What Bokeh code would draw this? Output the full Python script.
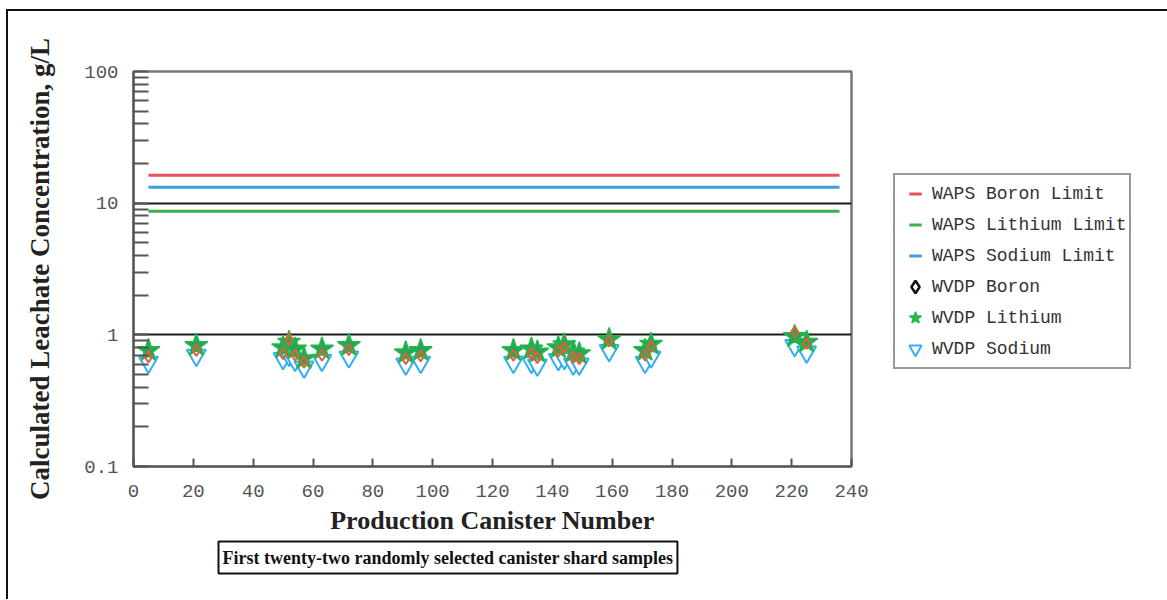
from bokeh.plotting import figure
from bokeh.models import (FixedTicker, Legend, LegendItem, Title, CustomJSTickFormatter, Range1d)
from bokeh.embed import file_html
from bokeh.resources import INLINE

# ---- data ----
canister = [5, 21, 50, 52, 54, 57, 63, 72, 91, 96, 127, 133, 135, 142, 144, 147, 149, 159, 171, 173, 221, 225]
wvdp_lithium = [0.76, 0.83, 0.80, 0.88, 0.78, 0.66, 0.78, 0.83, 0.73, 0.76, 0.76, 0.78, 0.74, 0.80, 0.84, 0.74, 0.72, 0.92, 0.76, 0.85, 0.97, 0.88]
wvdp_boron = [0.68, 0.76, 0.72, 0.92, 0.70, 0.62, 0.70, 0.77, 0.66, 0.69, 0.70, 0.72, 0.67, 0.75, 0.80, 0.68, 0.66, 0.90, 0.70, 0.82, 1.05, 0.86]
wvdp_sodium = [0.62, 0.70, 0.66, 0.70, 0.64, 0.57, 0.64, 0.68, 0.60, 0.62, 0.62, 0.62, 0.59, 0.65, 0.66, 0.60, 0.60, 0.76, 0.62, 0.68, 0.83, 0.74]

limit_x = [5, 236]
waps_boron_limit = [16.3, 16.3]
waps_lithium_limit = [8.7, 8.7]
waps_sodium_limit = [13.2, 13.2]

x_ticks = list(range(0, 241, 20))
y_major = [0.1, 1, 10, 100]
y_minor = [0.2, 0.3, 0.4, 0.5, 0.6, 0.7, 0.8, 0.9,
           2, 3, 4, 5, 6, 7, 8, 9,
           20, 30, 40, 50, 60, 70, 80, 90]

NAN = [float("nan")]  # legend-only proxies draw nothing in the plot

RED = "#e4505c"
GREEN = "#3cb04c"
BLUE = "#3a9ee0"
STAR = "#2aa457"
TRI = "#33aef0"
DIA = "#e0603a"

p = figure(width=1150, height=588, frame_width=718, frame_height=395,
           y_axis_type="log", x_range=Range1d(0, 240), y_range=Range1d(0.1, 100),
           output_backend="svg", toolbar_location=None,
           min_border_left=125, min_border_top=60, min_border_right=307, min_border_bottom=133)
p.styles = {"border-top": "2px solid #111", "border-left": "2px solid #111",
            "border-right": "2px solid #111", "margin-left": "6px", "margin-top": "9px"}

p.outline_line_color = "#777"
p.outline_line_width = 2.5

# axes
for ax in (p.xaxis[0], p.yaxis[0]):
    ax.axis_line_color = "#555"
    ax.axis_line_width = 2
    ax.major_tick_line_color = "#555"
    ax.major_tick_line_width = 2
    ax.minor_tick_line_color = "#555"
    ax.minor_tick_line_width = 2
    ax.major_tick_out = 0
    ax.minor_tick_out = 0
    ax.major_label_text_font = "Liberation Mono"
    ax.major_label_text_font_size = "19px"
    ax.major_label_text_color = "#555"
    ax.axis_label_text_font = "Liberation Serif"
    ax.axis_label_text_font_style = "bold"
    ax.axis_label_text_font_size = "26px"
    ax.axis_label_text_color = "#222"

p.xaxis.ticker = FixedTicker(ticks=x_ticks)
p.xaxis.major_tick_in = 8
p.xaxis.minor_tick_in = 0
p.xaxis.major_label_standoff = 18
p.xaxis.axis_label = "Production Canister Number"
p.xaxis.axis_label_standoff = 6

p.yaxis.ticker = FixedTicker(ticks=y_major, minor_ticks=y_minor)
p.yaxis.major_tick_in = 15
p.yaxis.minor_tick_in = 15
p.yaxis.major_label_standoff = 15
p.yaxis.formatter = CustomJSTickFormatter(code="return tick < 1 ? tick.toFixed(1) : tick.toFixed(0);")
p.yaxis.axis_label = "Calculated Leachate Concentration, g/L"
p.yaxis.axis_label_standoff = 26
p.yaxis.axis_label_text_font_size = "27px"

p.xgrid.visible = False
p.ygrid.ticker = FixedTicker(ticks=[1, 10])
p.ygrid.grid_line_color = "#1a1a1a"
p.ygrid.grid_line_width = 2

# limit lines
p.line(limit_x, waps_boron_limit, line_color=RED, line_width=3)
p.line(limit_x, waps_lithium_limit, line_color=GREEN, line_width=3)
p.line(limit_x, waps_sodium_limit, line_color=BLUE, line_width=3)

# data points
p.scatter(canister, wvdp_sodium, marker="inverted_triangle", size=19,
          line_color=TRI, fill_color="white", line_width=2)
p.scatter(canister, wvdp_lithium, marker="star", size=24,
          fill_color=STAR, line_color="#22b84a", line_width=1.5)
p.scatter(canister, wvdp_boron, marker="diamond", size=11,
          fill_color=None, line_color=DIA, line_width=2)

# legend proxies (NaN coordinates: nothing is drawn in the frame)
lg_b = p.scatter(NAN, NAN, marker="dash", line_color=RED, line_width=3)
lg_l = p.scatter(NAN, NAN, marker="dash", line_color=GREEN, line_width=3)
lg_s = p.scatter(NAN, NAN, marker="dash", line_color=BLUE, line_width=3)
lg_db = p.scatter(NAN, NAN, marker="diamond", fill_color=None, line_color="#111", line_width=2.5)
lg_dl = p.scatter(NAN, NAN, marker="star", fill_color=GREEN, line_color="#22b84a", line_width=1.5)
lg_ds = p.scatter(NAN, NAN, marker="inverted_triangle", fill_color="white", line_color=TRI, line_width=2)

legend = Legend(items=[
    LegendItem(label="WAPS Boron Limit", renderers=[lg_b]),
    LegendItem(label="WAPS Lithium Limit", renderers=[lg_l]),
    LegendItem(label="WAPS Sodium Limit", renderers=[lg_s]),
    LegendItem(label="WVDP Boron", renderers=[lg_db]),
    LegendItem(label="WVDP Lithium", renderers=[lg_dl]),
    LegendItem(label="WVDP Sodium", renderers=[lg_ds]),
], location=(42, 97), glyph_width=34, glyph_height=31, label_height=31, spacing=0, padding=3,
    label_standoff=0, margin=0,
    label_text_font="Liberation Mono", label_text_font_size="18px", label_text_color="#333",
    border_line_color="#333", border_line_width=2)
p.add_layout(legend, "right")

note = Title(text="First twenty-two randomly selected canister shard samples",
             align="left", offset=85, standoff=4,
             text_font="Liberation Serif", text_font_style="bold", text_font_size="18px",
             text_color="#111", border_line_color="#111", border_line_width=2,
             background_fill_color="white", padding=(4, 6))
p.add_layout(note, "below")

open("out.html", "w").write(file_html(p, INLINE))
